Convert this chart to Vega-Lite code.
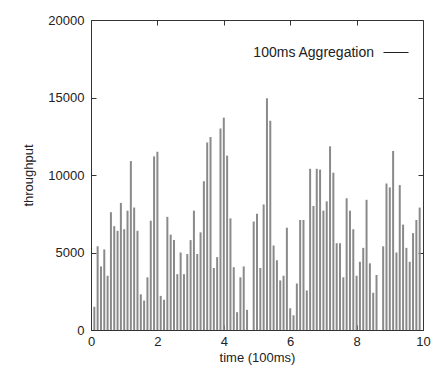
{
  "$schema": "https://vega.github.io/schema/vega-lite/v6.json",
  "width": 332,
  "height": 310,
  "autosize": {"type": "none"},
  "padding": {"left": 91, "top": 20, "right": 18, "bottom": 44},
  "background": "white",
  "config": {
    "font": "Liberation Sans",
    "view": {"stroke": "#333333", "strokeWidth": 1},
    "axis": {
      "grid": false,
      "domain": false,
      "labelFlush": false,
      "tickColor": "#333333",
      "tickSize": -5,
      "labelFont": "Liberation Sans",
      "labelFontSize": 13,
      "labelColor": "#222222",
      "titleFont": "Liberation Sans",
      "titleFontSize": 13,
      "titleFontWeight": "normal",
      "titleColor": "#222222"
    }
  },
  "data": {"values": [
    {"t": 0.1, "v": 1500}, {"t": 0.2, "v": 5400}, {"t": 0.3, "v": 4100}, {"t": 0.4, "v": 5200},
    {"t": 0.5, "v": 3500}, {"t": 0.6, "v": 7600}, {"t": 0.7, "v": 6700}, {"t": 0.8, "v": 6400},
    {"t": 0.9, "v": 8200}, {"t": 1.0, "v": 6500}, {"t": 1.1, "v": 7700}, {"t": 1.2, "v": 10900},
    {"t": 1.3, "v": 7900}, {"t": 1.4, "v": 6400}, {"t": 1.5, "v": 2300}, {"t": 1.6, "v": 1900},
    {"t": 1.7, "v": 3400}, {"t": 1.8, "v": 7050}, {"t": 1.9, "v": 11200}, {"t": 2.0, "v": 11500},
    {"t": 2.1, "v": 2200}, {"t": 2.2, "v": 1950}, {"t": 2.3, "v": 7300}, {"t": 2.4, "v": 6150},
    {"t": 2.5, "v": 5800}, {"t": 2.6, "v": 3600}, {"t": 2.7, "v": 5000}, {"t": 2.8, "v": 3600},
    {"t": 2.9, "v": 4900}, {"t": 3.0, "v": 5800}, {"t": 3.1, "v": 7700}, {"t": 3.2, "v": 4900},
    {"t": 3.3, "v": 6300}, {"t": 3.4, "v": 9600}, {"t": 3.5, "v": 12100}, {"t": 3.6, "v": 12450},
    {"t": 3.7, "v": 4000}, {"t": 3.8, "v": 4700}, {"t": 3.9, "v": 13000}, {"t": 4.0, "v": 13700},
    {"t": 4.1, "v": 11250}, {"t": 4.2, "v": 7200}, {"t": 4.3, "v": 4050}, {"t": 4.4, "v": 1150},
    {"t": 4.5, "v": 3400}, {"t": 4.6, "v": 4100}, {"t": 4.7, "v": 1300}, {"t": 4.9, "v": 7000},
    {"t": 5.0, "v": 7500}, {"t": 5.1, "v": 4000}, {"t": 5.2, "v": 8100}, {"t": 5.3, "v": 14950},
    {"t": 5.4, "v": 13500}, {"t": 5.5, "v": 5450}, {"t": 5.6, "v": 4500}, {"t": 5.7, "v": 3200},
    {"t": 5.8, "v": 3500}, {"t": 5.9, "v": 6600}, {"t": 6.0, "v": 1400}, {"t": 6.1, "v": 950},
    {"t": 6.2, "v": 3000}, {"t": 6.3, "v": 7100}, {"t": 6.4, "v": 7100}, {"t": 6.5, "v": 2550},
    {"t": 6.6, "v": 10400}, {"t": 6.7, "v": 8000}, {"t": 6.8, "v": 10400}, {"t": 6.9, "v": 10350},
    {"t": 7.0, "v": 7700}, {"t": 7.1, "v": 8300}, {"t": 7.2, "v": 11850}, {"t": 7.3, "v": 10150},
    {"t": 7.4, "v": 5600}, {"t": 7.5, "v": 5600}, {"t": 7.6, "v": 3400}, {"t": 7.7, "v": 8500},
    {"t": 7.8, "v": 7700}, {"t": 7.9, "v": 6500}, {"t": 8.0, "v": 3500}, {"t": 8.1, "v": 4400},
    {"t": 8.2, "v": 5300}, {"t": 8.3, "v": 8400}, {"t": 8.4, "v": 4300}, {"t": 8.5, "v": 2400},
    {"t": 8.6, "v": 3550}, {"t": 8.8, "v": 5400}, {"t": 8.9, "v": 9450}, {"t": 9.0, "v": 9200},
    {"t": 9.1, "v": 11550}, {"t": 9.2, "v": 5000}, {"t": 9.3, "v": 9350}, {"t": 9.4, "v": 6800},
    {"t": 9.5, "v": 5300}, {"t": 9.6, "v": 4400}, {"t": 9.7, "v": 6250}, {"t": 9.8, "v": 7100},
    {"t": 9.9, "v": 7900}
  ]},
  "layer": [
    {
      "mark": {"type": "rule", "strokeWidth": 2, "stroke": "#8a8a8a"},
      "encoding": {
        "x": {
          "field": "t", "type": "quantitative",
          "scale": {"domain": [0, 10], "nice": false, "zero": false},
          "axis": {"orient": "bottom", "values": [0, 2, 4, 6, 8, 10], "format": "d", "title": "time (100ms)", "labelPadding": 10, "titlePadding": 3}
        },
        "y": {
          "field": "v", "type": "quantitative",
          "scale": {"domain": [0, 20000], "nice": false},
          "axis": {"orient": "left", "values": [0, 5000, 10000, 15000, 20000], "format": "d", "title": "throughput", "labelPadding": 12, "titlePadding": 12}
        },
        "y2": {"datum": 0}
      }
    },
    {
      "mark": {"type": "rule", "opacity": 0},
      "encoding": {
        "x": {
          "field": "t", "type": "quantitative",
          "axis": {"orient": "top", "values": [0, 2, 4, 6, 8, 10], "labels": false, "title": null}
        },
        "y": {
          "field": "v", "type": "quantitative",
          "axis": {"orient": "right", "values": [0, 5000, 10000, 15000, 20000], "labels": false, "title": null}
        },
        "y2": {"datum": 0}
      }
    },
    {
      "transform": [{"filter": "false"}],
      "mark": {"type": "rule", "strokeWidth": 1},
      "encoding": {
        "color": {
          "datum": "100ms Aggregation",
          "scale": {"range": ["#222222"]},
          "legend": {
            "title": null,
            "orient": "none",
            "legendX": 292,
            "legendY": 19.5,
            "symbolType": "stroke",
            "symbolSize": 625,
            "symbolStrokeWidth": 1,
            "labelAlign": "right",
            "labelOffset": -35,
            "labelFont": "Liberation Sans",
            "labelFontSize": 14,
            "labelColor": "#222222",
            "labelLimit": 300
          }
        }
      }
    }
  ],
  "resolve": {"axis": {"x": "independent", "y": "independent"}}
}
